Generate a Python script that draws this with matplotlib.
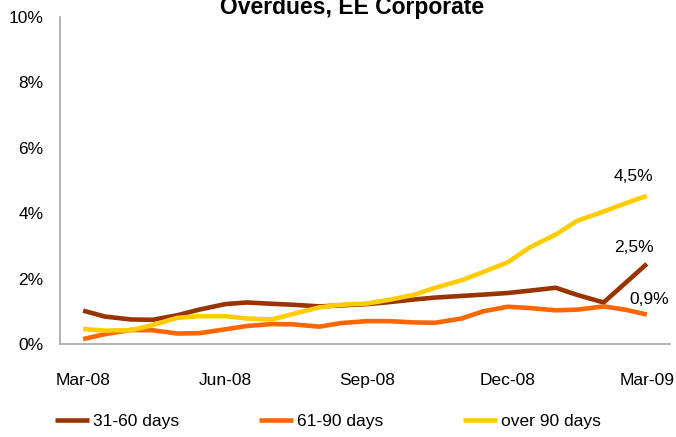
import matplotlib
matplotlib.use('Agg')
import matplotlib.pyplot as plt
import matplotlib.dates as mdates
from matplotlib.ticker import FuncFormatter
import pandas as pd

# semi-monthly observations, Mar-08 .. Mar-09
dates = pd.date_range('2008-03-01', '2009-03-01', freq='SMS')

days_31_60 = [1.02, 0.84, 0.75, 0.74, 0.88, 1.05, 1.22, 1.27, 1.23, 1.20, 1.15, 1.18, 1.22,
              1.28, 1.36, 1.42, 1.47, 1.51, 1.56, 1.63, 1.72, 1.50, 1.27, 1.86, 2.45]
days_61_90 = [0.15, 0.30, 0.43, 0.42, 0.32, 0.33, 0.45, 0.55, 0.61, 0.60, 0.53, 0.64, 0.70,
              0.70, 0.66, 0.65, 0.78, 1.00, 1.14, 1.10, 1.03, 1.05, 1.15, 1.05, 0.90]
over_90 = [0.46, 0.41, 0.42, 0.58, 0.80, 0.85, 0.85, 0.78, 0.75, 0.92, 1.12, 1.20, 1.24,
           1.35, 1.50, 1.72, 1.95, 2.20, 2.50, 2.95, 3.35, 3.77, 4.05, 4.30, 4.53]

series_names = ['31-60 days', '61-90 days', 'over 90 days']
series_colors = ['#993300', '#FF6600', '#FFCC00']
end_labels = ['2,5%', '0,9%', '4,5%']

plt.rcParams['font.family'] = ['Liberation Sans', 'DejaVu Sans']
fs = 12.5

fig = plt.figure(figsize=(6.76, 4.37), dpi=100)
ax = fig.add_axes([60 / 676, 1 - 344 / 437, 610 / 676, 327 / 437])

for vals, name, col in zip([days_31_60, days_61_90, over_90], series_names, series_colors):
    ax.plot(dates, vals, color=col, lw=3.3, label=name, solid_capstyle='butt')

# end-point labels
ax.annotate(end_labels[2], (dates[-1], over_90[-1]), xytext=(-10, 14),
            textcoords='offset points', ha='center', va='center', fontsize=fs)
ax.annotate(end_labels[0], (dates[-1], days_31_60[-1]), xytext=(-9, 12),
            textcoords='offset points', ha='center', va='center', fontsize=fs)
ax.annotate(end_labels[1], (dates[-1], days_61_90[-1]), xytext=(1.5, 11),
            textcoords='offset points', ha='center', va='center', fontsize=fs)

ax.set_ylim(0, 10)
ax.set_yticks([0, 2, 4, 6, 8, 10])
ax.yaxis.set_major_formatter(FuncFormatter(lambda v, p: '%d%%' % v))
ax.set_xlim(pd.Timestamp('2008-02-15'), pd.Timestamp('2009-03-16'))
ax.xaxis.set_major_locator(mdates.MonthLocator(bymonth=[3, 6, 9, 12]))
ax.xaxis.set_major_formatter(mdates.DateFormatter('%b-%y'))
ax.tick_params(axis='both', length=0, labelsize=fs)
ax.tick_params(axis='x', pad=21)
ax.tick_params(axis='y', pad=12)

for s in ['top', 'right']:
    ax.spines[s].set_visible(False)
for s in ['left', 'bottom']:
    ax.spines[s].set_color('#A6A6A6')
    ax.spines[s].set_linewidth(1.2)

fig.text(352 / 676, 1 - 14 / 437, 'Overdues, EE Corporate', ha='center', va='baseline',
         fontsize=16.5, fontweight='bold')

fig.legend(loc='center left', bbox_to_anchor=(55 / 676, 1 - 421 / 437), ncol=3,
           frameon=False, fontsize=fs, handlelength=1.95, handletextpad=0.23,
           columnspacing=4.6, borderaxespad=0, borderpad=0)

fig.savefig('out.png', dpi=100)
